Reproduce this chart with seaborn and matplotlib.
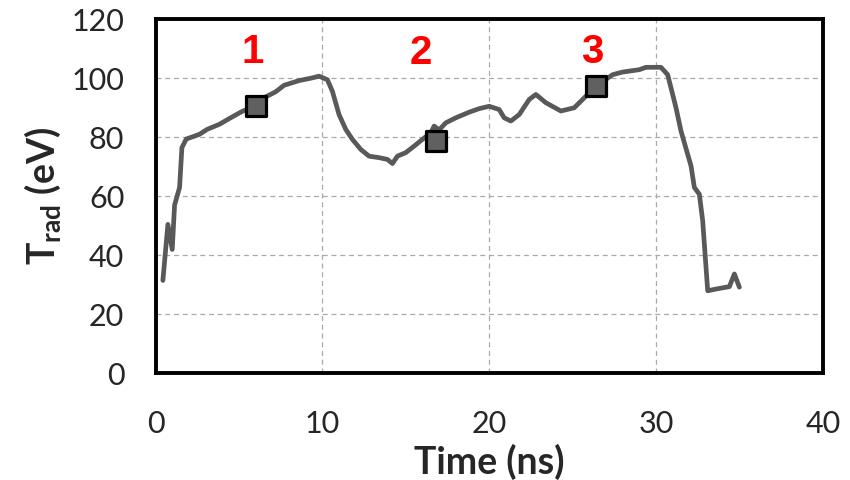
import matplotlib
matplotlib.use("Agg")
import matplotlib.pyplot as plt
import seaborn as sns
import pandas as pd

# Radiation temperature trace
time_ns = [0.44, 0.74, 1.0, 1.14, 1.44, 1.58, 1.84, 2.63, 3.1, 3.83, 4.5, 5.2, 6.0,
           6.5, 7.2, 7.7, 8.6, 9.3, 9.8, 10.3, 10.6, 11.0, 11.4, 11.8, 12.3, 12.8,
           13.4, 13.9, 14.2, 14.5, 15.0, 15.5, 16.0, 16.5, 16.7, 17.0, 17.4, 18.0,
           18.8, 19.4, 20.0, 20.6, 20.9, 21.3, 21.8, 22.4, 22.8, 23.4, 24.3, 25.1,
           25.6, 26.4, 27.4, 28.0, 29.0, 29.4, 30.3, 30.7, 31.0, 31.2, 31.5, 32.1,
           32.3, 32.6, 32.8, 33.1, 33.6, 34.4, 34.7, 35.0]
trad_ev = [31.5, 50.5, 42.0, 57.0, 63.0, 76.5, 79.4, 81.0, 82.7, 84.4, 86.6, 88.8, 90.5,
           93.4, 95.4, 97.6, 99.2, 100.0, 100.7, 99.5, 95.6, 87.7, 82.7, 79.3, 75.9, 73.6,
           73.1, 72.5, 71.1, 73.6, 74.8, 77.0, 79.3, 81.5, 83.8, 82.5, 84.9, 86.6,
           88.5, 89.7, 90.5, 89.4, 86.6, 85.5, 87.7, 92.8, 94.5, 91.7, 88.9, 90.0,
           92.8, 97.3, 101.2, 102.1, 102.9, 103.7, 103.7, 101.2, 94.5, 90.0, 82.1, 70.3,
           63.0, 60.7, 51.7, 28.0, 28.6, 29.4, 33.7, 29.2]

# Sampled instants
sample_labels = ["1", "2", "3"]
sample_time = [6.0, 16.8, 26.4]
sample_trad = [90.5, 78.9, 97.3]
label_time = [5.8, 15.9, 26.2]
label_trad = [109.0, 108.5, 109.0]

x_ticks = [0, 10, 20, 30, 40]
y_ticks = [0, 20, 40, 60, 80, 100, 120]

sns.set_theme(style="white")
plt.rcParams["font.family"] = ["Lato", "DejaVu Sans"]
plt.rcParams["mathtext.fontset"] = "custom"
plt.rcParams["mathtext.rm"] = "Lato"
plt.rcParams["mathtext.bf"] = "Lato:bold"

trace = pd.DataFrame({"time": time_ns, "trad": trad_ev})
samples = pd.DataFrame({"time": sample_time, "trad": sample_trad})

fig, ax = plt.subplots(figsize=(8.5, 4.8), dpi=100)
fig.subplots_adjust(left=0.183, right=0.968, top=0.960, bottom=0.222)

sns.lineplot(data=trace, x="time", y="trad", ax=ax, color="#595959",
             linewidth=3.4, sort=False, estimator=None)
sns.scatterplot(data=samples, x="time", y="trad", ax=ax, marker="s", s=210,
                color="#606060", edgecolor="black", linewidth=2.3, zorder=5)

for lab, tx, ty in zip(sample_labels, label_time, label_trad):
    ax.text(tx, ty, lab, color="#ff0000", fontsize=29, fontweight="bold",
            family="Liberation Sans", ha="center", va="center")

ax.set_xlim(0, 40)
ax.set_ylim(0, 120)
ax.set_xticks(x_ticks)
ax.set_yticks(y_ticks)
ax.tick_params(axis="both", which="major", labelsize=22, direction="out",
               length=6.5, width=2.5, color="black")
ax.tick_params(axis="y", pad=16)
ax.tick_params(axis="x", pad=20)

ax.grid(True, color="#aaaaaa", linestyle=(0, (4, 3)), linewidth=0.9)
for sp in ax.spines.values():
    sp.set_visible(True)
    sp.set_color("black")
    sp.set_linewidth(2.8)

ax.set_xlabel("Time (ns)", fontsize=27, fontweight="bold", labelpad=4)
ax.set_ylabel(r"$\mathbf{T_{rad}}$ (eV)", fontsize=27, fontweight="bold", labelpad=6)

fig.savefig("out.png", dpi=100)
